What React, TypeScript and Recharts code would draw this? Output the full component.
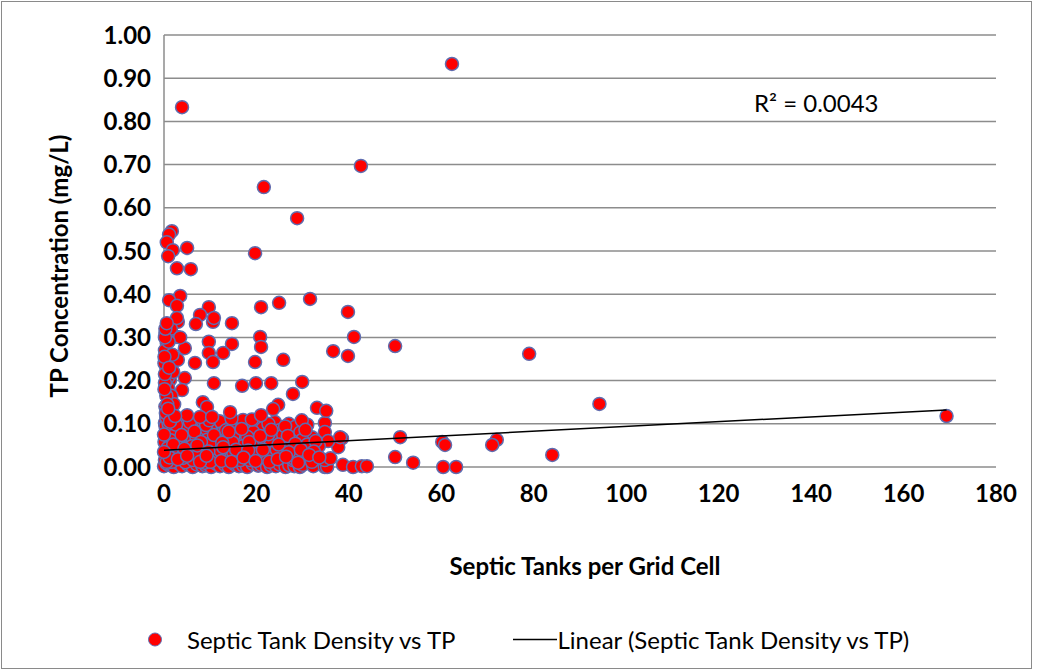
import React from "react";
import {
  ScatterChart,
  Scatter,
  XAxis,
  YAxis,
  CartesianGrid,
} from "recharts";

type Pt = [number, number];

// sparse points: high values and far-right cells
const outlierPoints: Pt[] = [
  [62.3, 0.933], [3.9, 0.833], [42.6, 0.697], [21.6, 0.648], [28.8, 0.576],
  [1.7, 0.546], [1.1, 0.538], [0.6, 0.52], [1.9, 0.502], [5.0, 0.507], [0.9, 0.488], [19.7, 0.495],
  [2.8, 0.46], [5.8, 0.458], [3.5, 0.396], [1.1, 0.386], [2.8, 0.373], [9.7, 0.37], [21.0, 0.37],
  [24.9, 0.38], [31.6, 0.389], [7.8, 0.352], [10.8, 0.345], [14.7, 0.333], [2.8, 0.345], [6.9, 0.331],
  [0.6, 0.333], [39.8, 0.359], [41.1, 0.301], [50.0, 0.28], [36.6, 0.268], [39.8, 0.257],
  [79.0, 0.262], [94.2, 0.146], [169.3, 0.118], [51.1, 0.069], [60.2, 0.058], [60.8, 0.051],
  [72.0, 0.063], [71.0, 0.051], [84.0, 0.028], [50.0, 0.023], [53.9, 0.01], [60.4, 0.0], [63.2, 0.0],
];

// points between about 0.10 and 0.34
const midPoints: Pt[] = [
  [3.0, 0.336], [10.6, 0.336], [2.8, 0.301], [0.6, 0.287], [9.7, 0.29], [14.7, 0.285], [20.8, 0.301],
  [21.0, 0.278], [4.5, 0.275], [0.9, 0.252], [3.0, 0.248], [6.7, 0.241], [9.7, 0.264], [10.6, 0.243],
  [12.8, 0.264], [19.7, 0.243], [25.8, 0.248], [0.6, 0.225], [1.3, 0.201], [4.5, 0.206], [10.8, 0.194],
  [16.9, 0.188], [19.9, 0.194], [23.2, 0.194], [29.9, 0.197], [27.9, 0.169], [0.9, 0.183], [3.9, 0.178],
  [0.9, 0.155], [8.4, 0.15], [9.3, 0.139], [24.7, 0.144], [23.6, 0.134], [33.1, 0.137], [35.1, 0.13],
  [1.3, 0.127], [5.0, 0.12], [7.8, 0.116], [14.3, 0.127], [21.0, 0.12], [0.9, 0.208], [1.7, 0.125],
  [10.4, 0.116], [0.3, 0.31], [1.5, 0.32], [0.2, 0.27], [1.8, 0.26], [0.4, 0.235], [2.0, 0.22],
  [0.2, 0.195], [1.6, 0.165], [0.3, 0.14], [2.2, 0.145], [0.5, 0.115], [3.5, 0.3], [1.0, 0.29], [0.5, 0.165],
  [0.1, 0.24], [0.2, 0.215], [0.1, 0.18], [0.4, 0.125], [0.2, 0.3], [0.1, 0.255], [1.1, 0.23],
  [0.7, 0.145], [1.3, 0.105], [0.3, 0.32], [2.4, 0.118], [0.9, 0.135],
];

// the dense block near the origin
const denseCluster: Pt[] = [
  [0.2, 0.102], [3.0, 0.108], [7.8, 0.104], [12.0, 0.106], [17.5, 0.104], [17.1, 0.109], [20.1, 0.102],
  [24.0, 0.104], [27.0, 0.1], [34.8, 0.102], [28.4, 0.093], [31.0, 0.098], [1.9, 0.09], [6.1, 0.09],
  [10.0, 0.088], [14.3, 0.092], [21.4, 0.09], [16.0, 0.079], [19.3, 0.081], [25.0, 0.085], [34.8, 0.081],
  [0.5, 0.085], [4.0, 0.082], [8.5, 0.08], [12.5, 0.078], [29.5, 0.08], [38.5, 0.066], [37.7, 0.046],
  [0.6, 0.067], [5.0, 0.058], [9.3, 0.063], [13.2, 0.067], [19.7, 0.063], [24.0, 0.067], [25.8, 0.074],
  [32.0, 0.069], [38.1, 0.069], [29.9, 0.063], [2.5, 0.072], [7.0, 0.07], [11.0, 0.06], [16.5, 0.062],
  [22.0, 0.058], [27.5, 0.062], [35.5, 0.06], [3.5, 0.062], [15.0, 0.072], [18.0, 0.07], [0.4, 0.05],
  [2.8, 0.045], [6.0, 0.048], [8.5, 0.042], [11.5, 0.05], [14.0, 0.044], [17.0, 0.048], [20.0, 0.045],
  [23.0, 0.05], [26.0, 0.044], [28.8, 0.046], [31.0, 0.052], [33.5, 0.048], [1.5, 0.04], [10.0, 0.055],
  [19.0, 0.054], [0.9, 0.032], [4.1, 0.021], [8.2, 0.021], [13.9, 0.021], [16.5, 0.016], [18.6, 0.016],
  [0.2, 0.016], [6.3, 0.016], [21.9, 0.021], [25.1, 0.028], [27.9, 0.016], [34.8, 0.016], [2.5, 0.028],
  [11.0, 0.03], [15.0, 0.032], [20.0, 0.03], [23.5, 0.033], [30.0, 0.025], [36.0, 0.02], [28.0, 0.02],
  [10.0, 0.012], [32.0, 0.012], [0.3, 0.095], [1.2, 0.078], [0.1, 0.058], [1.6, 0.036], [0.6, 0.012],
  [2.2, 0.088], [0.8, 0.11], [4.6, 0.095], [9.1, 0.097], [13.4, 0.085], [22.6, 0.076], [5.5, 0.036],
  [12.2, 0.038], [17.8, 0.027], [24.4, 0.04], [7.4, 0.028], [3.3, 0.052], [14.8, 0.057],
  [1.0, 0.1], [2.6, 0.098], [5.6, 0.104], [9.8, 0.108], [14.6, 0.112], [19.0, 0.11], [22.6, 0.1],
  [26.2, 0.094], [29.8, 0.108], [1.4, 0.062], [3.8, 0.074], [6.6, 0.082], [8.0, 0.058], [10.8, 0.074],
  [12.6, 0.056], [14.0, 0.082], [16.8, 0.088], [18.4, 0.058], [20.8, 0.072], [23.2, 0.086], [26.8, 0.072],
  [28.4, 0.054], [30.6, 0.086], [32.8, 0.06], [0.8, 0.044], [2.0, 0.052], [4.4, 0.042], [7.2, 0.05],
  [9.6, 0.036], [12.8, 0.046], [15.6, 0.04], [18.2, 0.038], [21.4, 0.04], [24.8, 0.052], [27.0, 0.034],
  [29.6, 0.04], [32.4, 0.036], [1.2, 0.022], [3.0, 0.018], [5.0, 0.026], [7.8, 0.012], [9.2, 0.026],
  [12.4, 0.014], [14.6, 0.012], [17.2, 0.022], [19.8, 0.014], [22.8, 0.012], [24.6, 0.018], [26.4, 0.024],
  [29.0, 0.01], [31.4, 0.028], [33.6, 0.022], [0.0, 0.075], [0.0, 0.035],
];

// points sitting on or just above zero
const baselinePoints: Pt[] = [
  [0.0, 0.002], [1.0, 0.005], [2.1, 0.0], [3.2, 0.008], [3.9, 0.002], [5.1, 0.006], [6.2, 0.0],
  [7.1, 0.006], [8.3, 0.002], [9.0, 0.004], [10.2, 0.0], [11.3, 0.007], [12.1, 0.002], [13.2, 0.005],
  [14.0, 0.0], [15.3, 0.006], [16.2, 0.002], [17.1, 0.004], [18.0, 0.0], [19.2, 0.007], [20.4, 0.003],
  [21.0, 0.005], [22.3, 0.0], [23.1, 0.004], [24.2, 0.002], [25.0, 0.006], [26.3, 0.0], [27.1, 0.004],
  [28.2, 0.002], [29.4, 0.0], [30.0, 0.005], [32.3, 0.002], [34.8, 0.0], [35.3, 0.0], [38.7, 0.005],
  [40.9, 0.0], [42.8, 0.002], [43.9, 0.002], [0.5, 0.009], [1.7, 0.012], [4.6, 0.011], [8.8, 0.01],
];

const trendLine: Pt[] = [
  [0, 0.039],
  [169.3, 0.132],
];

const xTicks = [0, 20, 40, 60, 80, 100, 120, 140, 160, 180];
const yTicks = [0, 0.1, 0.2, 0.3, 0.4, 0.5, 0.6, 0.7, 0.8, 0.9, 1.0];

const allPoints = [...baselinePoints, ...denseCluster, ...midPoints, ...outlierPoints].map(
  ([x, y]) => ({ x, y })
);
const trendData = trendLine.map(([x, y]) => ({ x, y }));

const FONT = "Lato, 'Open Sans', sans-serif";
const DOT_FILL = "#ff0000";
const DOT_STROKE = "#5f6db0";

const Dot = (props: any) => {
  const { cx, cy } = props;
  return <circle cx={cx} cy={cy} r={6.5} fill={DOT_FILL} stroke={DOT_STROKE} strokeWidth={1.5} />;
};

const NoDot = () => <g />;

const App: React.FC = () => {
  return (
    <div
      style={{
        position: "fixed",
        left: 0,
        top: 0,
        width: 1038,
        height: 671,
        background: "#fff",
        fontFamily: FONT,
      }}
    >
      <div
        style={{
          position: "absolute",
          left: 1,
          top: 1,
          width: 1029,
          height: 666,
          border: "1px solid #8a8a8a",
        }}
      />
      <ScatterChart
        width={1038}
        height={671}
        margin={{ top: 35, right: 42, left: 0, bottom: 164 }}
      >
        <CartesianGrid vertical={false} stroke="#8c8c8c" strokeWidth={1.5} />
        <XAxis
          type="number"
          dataKey="x"
          domain={[0, 180]}
          ticks={xTicks}
          height={40}
          axisLine={false}
          tickLine={false}
          tickSize={6}
          tickMargin={12}
          interval={0}
          tick={{ fontFamily: FONT, fontSize: 24, fontWeight: 700, fill: "#000" }}
        />
        <YAxis
          type="number"
          dataKey="y"
          domain={[0, 1]}
          ticks={yTicks}
          width={164}
          axisLine={{ stroke: "#8c8c8c", strokeWidth: 1.5 }}
          tickLine={false}
          tickSize={6}
          tickMargin={7}
          interval={0}
          tickFormatter={(v: number) => v.toFixed(2)}
          tick={{ fontFamily: FONT, fontSize: 24, fontWeight: 700, fill: "#000" }}
        />
        <Scatter data={allPoints} shape={<Dot />} isAnimationActive={false} />
        <Scatter
          data={trendData}
          shape={<NoDot />}
          line={{ stroke: "#000", strokeWidth: 1.5 }}
          isAnimationActive={false}
        />
      </ScatterChart>

      {/* y axis title */}
      <div
        style={{
          position: "absolute",
          left: 58,
          top: 266,
          transform: "translate(-50%, -50%) rotate(-90deg)",
          whiteSpace: "nowrap",
          fontSize: 24,
          fontWeight: 700,
          color: "#000",
        }}
      >
        TP Concentration (mg/L)
      </div>

      {/* x axis title */}
      <div
        style={{
          position: "absolute",
          left: 585,
          top: 565,
          transform: "translate(-50%, -50%)",
          whiteSpace: "nowrap",
          fontSize: 24,
          fontWeight: 700,
          color: "#000",
        }}
      >
        Septic Tanks per Grid Cell
      </div>

      {/* trendline R² */}
      <div
        style={{
          position: "absolute",
          left: 754,
          top: 102,
          transform: "translate(0, -50%)",
          whiteSpace: "nowrap",
          fontSize: 24,
          color: "#000",
        }}
      >
        R² = 0.0043
      </div>

      {/* legend */}
      <div
        style={{
          position: "absolute",
          left: 147,
          top: 639,
          transform: "translate(0, -50%)",
          display: "flex",
          alignItems: "center",
          whiteSpace: "nowrap",
          fontSize: 24,
          color: "#000",
        }}
      >
        <svg width={16} height={16}>
          <circle cx={8} cy={8} r={6.5} fill={DOT_FILL} stroke={DOT_STROKE} strokeWidth={1} />
        </svg>
        <span style={{ marginLeft: 24 }}>Septic Tank Density vs TP</span>
        <svg width={44} height={16} style={{ marginLeft: 58 }}>
          <line x1={0} y1={8} x2={44} y2={8} stroke="#000" strokeWidth={1.5} />
        </svg>
        <span>Linear (Septic Tank Density vs TP)</span>
      </div>
    </div>
  );
};

export default App;
